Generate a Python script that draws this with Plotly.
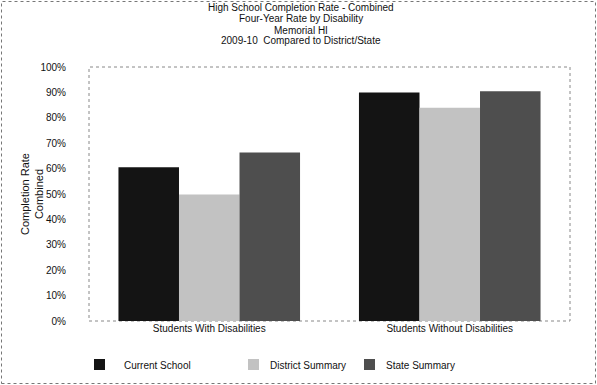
import plotly.graph_objects as go

# Completion-rate data by disability status
categories = ["Students With Disabilities", "Students Without Disabilities"]
series_names = ["Current School", "District Summary", "State Summary"]
current_school = [60.5, 90.0]
district_summary = [49.8, 84.0]
state_summary = [66.3, 90.5]
y_tick_values = [0, 10, 20, 30, 40, 50, 60, 70, 80, 90, 100]
y_tick_labels = ["0%", "10%", "20%", "30%", "40%", "50%", "60%", "70%", "80%", "90%", "100%"]
title_lines = [
    "High School Completion Rate - Combined",
    "Four-Year Rate by Disability",
    "Memorial HI",
    "2009-10  Compared to District/State",
]

colors = ["#141414", "#c2c2c2", "#4e4e4e"]
FONT = "Liberation Sans, Arial, sans-serif"

W, H = 597, 385
L, R, T, B = 89, 27, 67, 64
PW, PH = W - L - R, H - T - B


def px_x(p):
    return (p - L) / PW


def px_y(p):
    return (H - B - p) / PH


fig = go.Figure()
for name, vals, col in zip(series_names, [current_school, district_summary, state_summary], colors):
    fig.add_trace(go.Bar(
        x=categories, y=vals, name=name,
        marker=dict(color=col, line=dict(width=0)),
        showlegend=False,
    ))

annotations = []
# stacked title lines
for i, line in enumerate(title_lines):
    annotations.append(dict(
        text=line, xref="paper", yref="paper", x=px_x(301), y=px_y(8 + i * 11),
        xanchor="center", yanchor="middle", showarrow=False,
        font=dict(family=FONT, size=10, color="#111"),
    ))
# y-axis title
annotations.append(dict(
    text="Completion Rate<br>Combined", xref="paper", yref="paper",
    x=px_x(32), y=px_y(194), xanchor="center", yanchor="middle",
    textangle=-90, showarrow=False, font=dict(family=FONT, size=11, color="#111"),
))

shapes = []
# legend swatches and labels
legend_pos = [(94, 122), (248, 268), (364, 384)]
for (sx, tx), name, col in zip(legend_pos, series_names, colors):
    shapes.append(dict(
        type="rect", xref="paper", yref="paper",
        x0=px_x(sx), x1=px_x(sx + 11), y0=px_y(359), y1=px_y(370),
        fillcolor=col, line=dict(width=0),
    ))
    annotations.append(dict(
        text=name, xref="paper", yref="paper", x=px_x(tx), y=px_y(365),
        xanchor="left", yanchor="middle", showarrow=False,
        font=dict(family=FONT, size=10, color="#111"),
    ))

# dotted plot-area frame
shapes.append(dict(
    type="rect", xref="paper", yref="paper", x0=0, x1=1, y0=0, y1=1,
    line=dict(color="#888", width=1, dash="dot"), layer="below",
))
# outer page frame
shapes.append(dict(
    type="rect", xref="paper", yref="paper",
    x0=px_x(1.5), x1=px_x(W - 1.5), y0=px_y(H - 1.5), y1=px_y(1.5),
    line=dict(color="#777", width=1, dash="dot"),
))

fig.update_layout(
    width=W, height=H,
    margin=dict(l=L, r=R, t=T, b=B),
    paper_bgcolor="white", plot_bgcolor="white",
    barmode="group", bargap=0.245, bargroupgap=0,
    font=dict(family=FONT, size=10, color="#111"),
    xaxis=dict(
        showgrid=False, zeroline=False, showline=False, ticks="",
        tickfont=dict(family=FONT, size=10, color="#111"),
    ),
    yaxis=dict(
        range=[0, 100], tickvals=y_tick_values, ticktext=y_tick_labels,
        showgrid=False, zeroline=False, showline=False, ticks="",
        ticklabelstandoff=22,
        tickfont=dict(family=FONT, size=10, color="#111"),
    ),
    annotations=annotations, shapes=shapes,
)

fig.write_html("out.html")
